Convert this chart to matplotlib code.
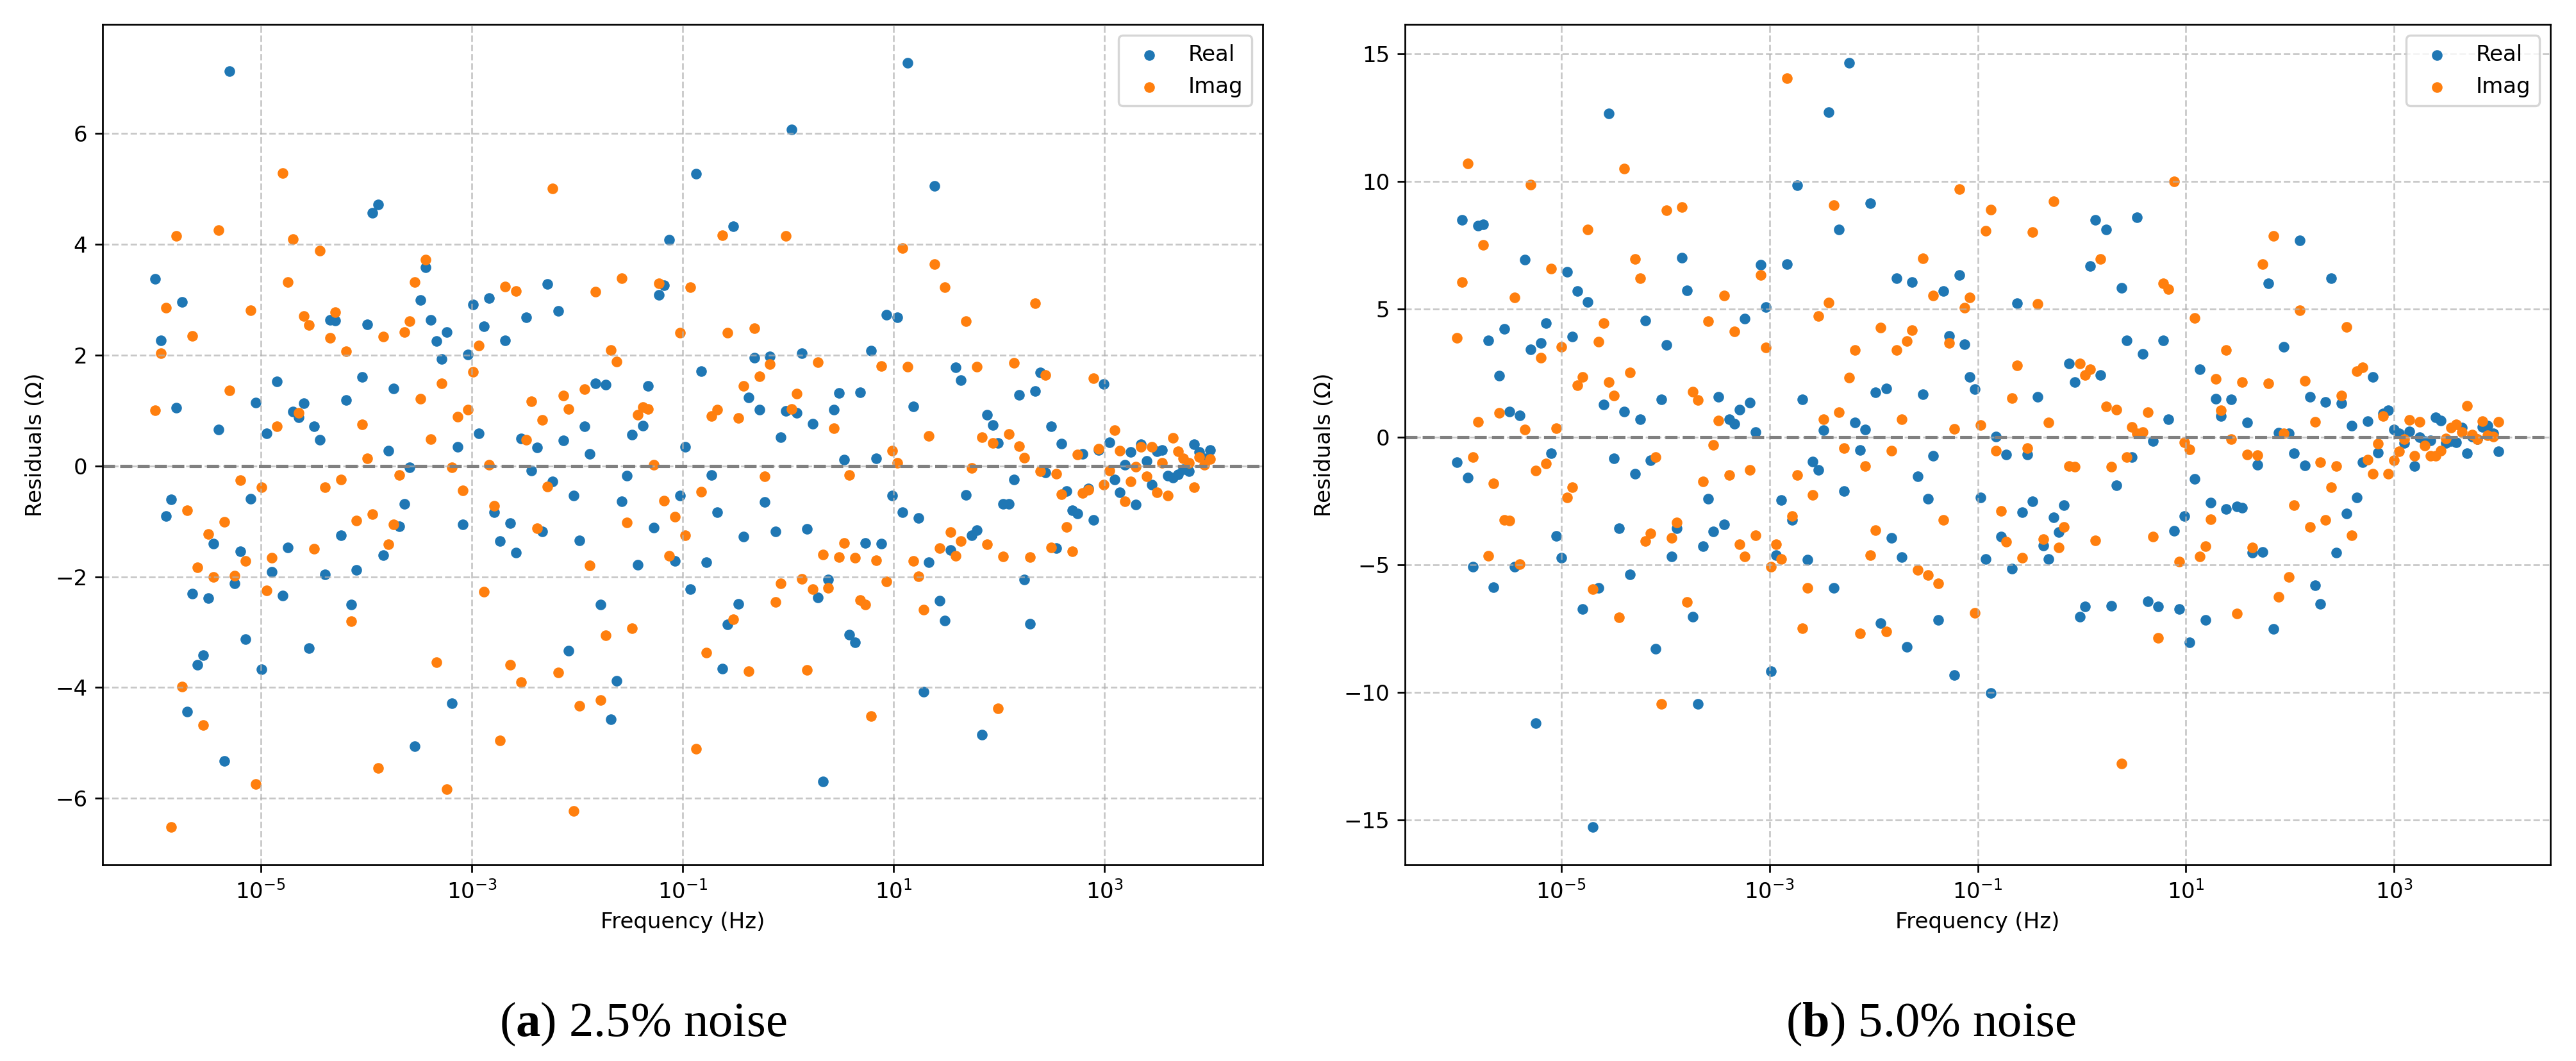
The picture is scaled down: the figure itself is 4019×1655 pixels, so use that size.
import numpy as np
import matplotlib
matplotlib.use("Agg")
import matplotlib.pyplot as plt
from matplotlib.ticker import FixedLocator, LogFormatterSciNotation, NullLocator

# frequency grid of the fit: 200 log-spaced points, 1e-6 .. 1e4 Hz
freq = np.logspace(-6, 4, 200)

# residuals, panel (a) 2.5% noise
real_a = [3.38, 2.27, -0.90, -0.60, 1.05, 2.96, -4.44, -2.31, -3.59, -3.42,
          -2.39, -1.40, 0.66, -5.33, 7.13, -2.12, -1.54, -3.13, -0.59, 1.14,
          -3.67, 0.59, -1.91, 1.53, -2.34, -1.47, 0.98, 0.88, 1.13, -3.29,
          0.72, 0.47, -1.96, 2.64, 2.62, -1.25, 1.19, -2.50, -1.88, 1.60,
          2.55, 4.57, 4.72, -1.61, 0.28, 1.40, -1.09, -0.69, -0.03, -5.06,
          2.99, 3.59, 2.64, 2.25, 1.93, 2.41, -4.28, 0.35, -1.06, 2.01,
          2.91, 0.59, 2.52, 3.03, -0.83, -1.36, 2.27, -1.03, -1.56, 0.49,
          2.68, -0.08, 0.33, -1.18, 3.28, -0.28, 2.80, 0.46, -3.34, -0.53,
          -1.34, 0.72, 0.22, 1.49, -2.50, 1.47, -4.57, -3.88, -0.64, -0.18,
          0.56, -1.79, 0.73, 1.44, -1.11, 3.09, 3.26, 4.08, -1.72, -0.53,
          0.35, -2.22, 5.27, 1.71, -1.74, -0.17, -0.84, -3.66, -2.86, 4.32,
          -2.49, -1.27, 1.23, 1.95, 1.01, -0.65, 1.98, -1.18, 0.52, 0.99,
          6.07, 0.96, 2.03, -1.14, 0.76, -2.38, -5.70, -2.05, 1.01, 1.32,
          0.11, -3.05, -3.19, 1.33, -1.39, 2.08, 0.14, -1.40, 2.73, -0.54,
          2.68, -0.83, 7.28, 1.07, -0.94, -4.08, -1.74, 5.05, -2.43, -2.79,
          -1.52, 1.78, 1.55, -0.52, -1.25, -1.16, -4.85, 0.92, 0.74, 0.41,
          -0.68, -0.68, -0.25, 1.28, -2.05, -2.85, 1.35, 1.69, -0.12, 0.71,
          -1.48, 0.40, -0.45, -0.80, -0.86, 0.22, -0.41, -0.98, 0.29, 1.48,
          0.43, -0.25, -0.48, 0.02, 0.25, -0.70, 0.39, 0.09, -0.34, 0.26,
          0.29, -0.18, -0.21, -0.15, -0.06, -0.10, 0.39, 0.25, 0.14, 0.29]

imag_a = [1.00, 2.03, 2.86, -6.52, 4.15, -3.98, -0.80, 2.35, -1.83, -4.68,
          -1.23, -2.01, 4.25, -1.01, 1.36, -1.98, -0.26, -1.72, 2.81, -5.74,
          -0.38, -2.25, -1.66, 0.72, 5.28, 3.32, 4.09, 0.96, 2.71, 2.54,
          -1.50, 3.89, -0.39, 2.31, 2.78, -0.25, 2.07, -2.80, -0.99, 0.75,
          0.14, -0.87, -5.45, 2.34, -1.42, -1.06, -0.16, 2.42, 2.61, 3.32,
          1.21, 3.72, 0.48, -3.54, 1.49, -5.84, -0.03, 0.89, -0.44, 1.02,
          1.70, 2.17, -2.27, 0.02, -0.72, -4.95, 3.24, -3.59, 3.16, -3.90,
          0.47, 1.17, -1.12, 0.83, -0.37, 5.01, -3.73, 1.27, 1.03, -6.23,
          -4.33, 1.39, -1.80, 3.14, -4.23, -3.06, 2.09, 1.88, 3.39, -1.02,
          -2.93, 0.92, 1.06, 1.03, 0.02, 3.30, -0.63, -1.62, -0.92, 2.40,
          -1.25, 3.23, -5.10, -0.46, -3.37, 0.90, 1.01, 4.16, 2.40, -2.77,
          0.86, 1.44, -3.70, 2.49, 1.62, -0.19, 1.84, -2.46, -2.12, 4.15,
          1.03, 1.31, -2.04, -3.68, -2.22, 1.87, -1.60, -2.20, 0.68, -1.65,
          -1.39, -0.16, -1.66, -2.42, -2.50, -4.52, -1.70, 1.80, -2.08, 0.27,
          0.05, 3.93, 1.79, -1.72, -1.99, -2.59, 0.54, 3.64, -1.48, 3.23,
          -1.20, -1.62, -1.36, 2.61, -0.04, 1.79, 0.52, -1.41, 0.41, -4.38,
          -1.63, 0.58, 1.86, 0.36, 0.15, -1.65, 2.94, -0.09, 1.64, -1.47,
          -0.14, -0.51, -1.10, -1.54, 0.20, -0.49, -0.43, 1.58, 0.31, -0.34,
          -0.08, 0.65, 0.27, -0.64, -0.28, -0.01, 0.34, -0.19, 0.35, -0.48,
          0.05, -0.54, 0.51, 0.26, 0.14, 0.05, -0.39, 0.16, 0.02, 0.12]

# panel (b) 5.0% noise
real_b = [-1.00, 8.50, -1.58, -5.09, 8.28, 8.33, 3.77, -5.88, 2.41, 4.22,
          0.98, -5.09, 0.85, 6.94, 3.43, -11.20, 3.68, 4.45, -0.64, -3.88,
          -4.73, 6.47, 3.92, 5.71, -6.73, 5.28, -15.27, -5.90, 1.26, 12.65,
          -0.83, -3.58, 1.00, -5.39, -1.43, 0.68, 4.56, -0.92, -8.30, 1.47,
          3.60, -4.68, -3.58, 7.01, 5.73, -7.03, -10.46, -4.28, -2.43, -3.71,
          1.58, -3.43, 0.68, 0.51, 1.06, 4.62, 1.34, 0.19, 6.75, 5.09,
          -9.16, -4.64, -2.47, 6.77, -3.26, 9.84, 1.47, -4.81, -0.96, -1.28,
          0.26, 12.71, -5.90, 8.11, -2.13, 14.65, 0.57, -0.51, 0.30, 9.16,
          1.75, -7.28, 1.90, -3.94, 6.22, -4.71, -8.22, 6.07, -1.55, 1.68,
          -2.43, -0.75, -7.16, 5.71, 3.96, -9.31, 6.35, 3.62, 2.36, 1.87,
          -2.36, -4.77, -10.03, 0.02, -3.90, -0.68, -5.15, 5.24, -2.96, -0.68,
          -2.51, 1.58, -4.24, -4.79, -3.15, -3.73, -2.66, 2.87, 2.15, -7.05,
          -6.64, 6.69, 8.50, 2.43, 8.13, -6.60, -1.90, 5.83, 3.79, -0.79,
          8.60, 3.24, -6.43, -0.17, -6.64, 3.79, 0.68, -3.68, -6.73, -3.09,
          -8.05, -1.64, 2.66, -7.16, -2.56, 1.49, 0.81, -2.81, 1.47, -2.73,
          -2.77, 0.57, -4.54, -1.09, -4.51, 6.00, -7.52, 0.17, 3.53, 0.13,
          -0.64, 7.69, -1.11, 1.58, -5.81, -6.54, 1.36, 6.20, -4.54, 1.32,
          -3.00, 0.45, -2.36, -0.98, 0.62, 2.36, -0.62, 0.92, 1.04, 0.30,
          0.15, -0.23, 0.21, -1.15, -0.02, -0.15, -0.13, 0.77, 0.64, -0.23,
          -0.15, -0.21, 0.36, -0.64, 0.02, -0.09, 0.40, 0.45, 0.15, -0.57]

imag_b = [3.88, 6.07, 10.71, -0.79, 0.60, 7.52, -4.66, -1.81, 0.94, -3.26,
          -3.28, 5.47, -4.98, 0.30, 9.88, -1.32, 3.11, -1.04, 6.60, 0.34,
          3.53, -2.36, -1.98, 2.02, 2.34, 8.11, -5.96, 3.73, 4.45, 2.15,
          1.62, -7.07, 10.50, 2.53, 6.96, 6.20, -4.07, -3.77, -0.79, -10.46,
          8.88, -3.96, -3.36, 8.99, -6.45, 1.77, 1.45, -1.75, 4.54, -0.32,
          0.64, 5.54, -1.49, 4.13, -4.19, -4.68, -1.30, -3.85, 6.35, 3.49,
          -5.09, -4.19, -4.77, 14.03, -3.09, -1.49, -7.50, -5.90, -2.28, 4.73,
          0.68, 5.26, 9.07, 0.96, -0.45, 2.32, 3.39, -7.69, -1.15, -4.64,
          -3.66, 4.28, -7.62, -0.53, 3.41, 0.68, 3.75, 4.17, -5.20, 6.98,
          -5.41, 5.54, -5.73, -3.26, 3.68, 0.32, 9.71, 5.05, 5.45, -6.88,
          0.47, 8.07, 8.90, -0.53, -2.90, -4.11, 1.53, 2.81, -4.73, -0.45,
          8.03, 5.22, -4.00, 0.57, 9.22, -4.32, -3.53, -1.15, -1.17, 2.87,
          2.43, 2.64, -4.05, 6.96, 1.19, -1.17, 1.06, -12.78, -0.79, 0.40,
          0.13, 0.19, 0.96, -3.90, -7.86, 6.01, 5.79, 10.01, -4.88, -0.21,
          -0.49, 4.66, -4.68, -4.28, -3.22, 2.28, 1.04, 3.41, -0.09, -6.92,
          2.15, -0.68, -4.34, -0.72, 6.77, 2.09, 7.86, -6.26, 0.15, -5.47,
          -2.68, 4.96, 2.19, -3.53, 0.60, -1.00, -3.26, -1.98, -1.13, 1.62,
          4.30, -3.85, 2.58, 2.73, -0.89, -1.43, -0.26, 0.81, -1.43, -0.92,
          -0.57, -0.09, 0.66, -0.75, 0.60, -0.34, -0.75, -0.75, -0.55, -0.06,
          0.36, 0.49, 0.19, 1.21, 0.09, -0.09, 0.62, 0.06, 0.02, 0.60]

captions = [r"($\mathbf{a}$) 2.5% noise", r"($\mathbf{b}$) 5.0% noise"]
ylims = [(-7.2, 7.97), (-16.75, 16.15)]
decade_ticks = [1e-5, 1e-3, 1e-1, 1e1, 1e3]

plt.rcParams["mathtext.fontset"] = "custom"
plt.rcParams["mathtext.rm"] = "Liberation Serif"
plt.rcParams["mathtext.bf"] = "Liberation Serif:bold"

DPI = 245
fig = plt.figure(figsize=(4019 / DPI, 1655 / DPI), dpi=DPI)

W, H = 4019, 1655
boxes = [(160, 38, 1970, 1349), (2192, 38, 3979, 1349)]
cap_x = [1003, 3012]

panels = [(real_a, imag_a), (real_b, imag_b)]
for i, (re, im) in enumerate(panels):
    x0, y0, x1, y1 = boxes[i]
    ax = fig.add_axes([x0 / W, 1 - y1 / H, (x1 - x0) / W, (y1 - y0) / H])
    ax.scatter(freq, re, s=15, label="Real")
    ax.scatter(freq, im, s=15, label="Imag")
    ax.axhline(0, color="gray", linestyle="--")
    ax.set_xscale("log")
    ax.set_xlim(10 ** -6.5, 10 ** 4.5)
    ax.set_ylim(*ylims[i])
    ax.xaxis.set_major_locator(FixedLocator(decade_ticks))
    ax.xaxis.set_major_formatter(LogFormatterSciNotation())
    ax.xaxis.set_minor_locator(NullLocator())
    ax.set_xlabel("Frequency (Hz)")
    ax.set_ylabel("Residuals (Ω)")
    ax.grid(True, linestyle="--", alpha=0.7)
    ax.legend(loc="upper right")

    fig.text(cap_x[i] / W, 1 - 1597 / H, captions[i], ha="center", va="center",
             fontsize=22.5, family="Liberation Serif")

fig.savefig("out.png", dpi=DPI)
